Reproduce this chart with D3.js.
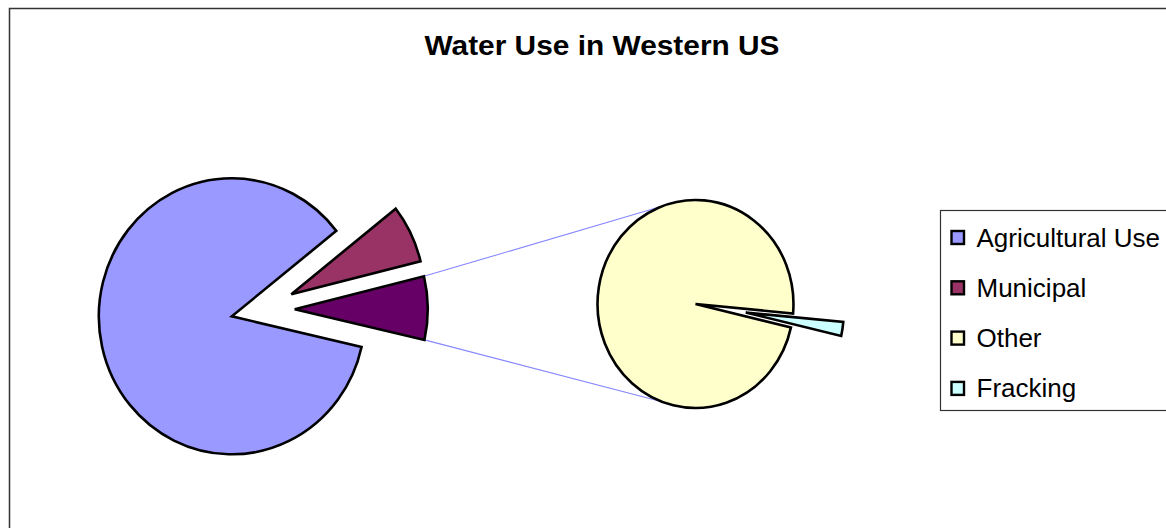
<!DOCTYPE html>
<html><head><meta charset="utf-8">
<script src="https://cdn.jsdelivr.net/npm/d3@7"></script>
<style>body{margin:0;background:#fff}svg{display:block}</style>
</head><body>
<svg id="chart" width="1166" height="528"></svg>
<script>
// ---- data ----
const title = "Water Use in Western US";
const categories = ["Agricultural Use", "Municipal", "Other", "Fracking"];
const values = [85.8, 6.8, 7.24, 0.16];          // percent of total water use
const secondaryCategories = ["Other", "Fracking"]; // split out into the second pie
const colors = ["#9999FF", "#993366", "#FFFFCC", "#CCFFFF"];
const combinedColor = "#660066";

// ---- layout / style ----
const deg = Math.PI / 180;
const svg = d3.select("#chart");

const mainCfg = {cx: 261, cy: 309.5, r: 138, sx: 0.964, start: 102.85 * deg, explode: [31, 35, 35]};
const secCfg = {cx: 695.5, cy: 304, r: 104, sx: 0.942, start: 103 * deg, explode: [0, 54]};

// chart border
svg.append("rect").attr("x", 9.5).attr("y", 8.5).attr("width", 1300).attr("height", 700)
  .attr("fill", "#fff").attr("stroke", "#333").attr("stroke-width", 1.5);

// title
svg.append("text").attr("x", 602).attr("y", 55).attr("text-anchor", "middle")
  .attr("font-family", "Liberation Sans, Arial, sans-serif").attr("font-weight", "bold")
  .attr("font-size", 27).attr("textLength", 355).attr("lengthAdjust", "spacingAndGlyphs")
  .attr("fill", "#000").text(title);

// data
const byName = new Map(categories.map((c, i) => [c, {name: c, value: values[i], color: colors[i]}]));
const secData = secondaryCategories.map(c => byName.get(c));
const mainData = categories.filter(c => !secondaryCategories.includes(c)).map(c => byName.get(c));
mainData.push({name: "Other (combined)", value: d3.sum(secData, d => d.value), color: combinedColor});

const mainArcs = d3.pie().sort(null).value(d => d.value)
  .startAngle(mainCfg.start).endAngle(mainCfg.start + 2 * Math.PI)(mainData);
const secArcs = d3.pie().sort(null).value(d => d.value)
  .startAngle(secCfg.start).endAngle(secCfg.start + 2 * Math.PI)(secData);

function toScreen(cfg, x, y) { return [cfg.cx + cfg.sx * x, cfg.cy + y]; }
function offsetOf(a, e) { const m = (a.startAngle + a.endAngle) / 2; return [e * Math.sin(m), -e * Math.cos(m)]; }

// connector lines (from combined slice corners to the second pie)
const comb = mainArcs[mainArcs.length - 1];
const co = offsetOf(comb, mainCfg.explode[mainArcs.length - 1]);
const p1 = toScreen(mainCfg, co[0] + mainCfg.r * Math.sin(comb.startAngle), co[1] - mainCfg.r * Math.cos(comb.startAngle));
const p2 = toScreen(mainCfg, co[0] + mainCfg.r * Math.sin(comb.endAngle), co[1] - mainCfg.r * Math.cos(comb.endAngle));
const q1 = toScreen(secCfg, secCfg.r * Math.sin(-20 * deg), -secCfg.r * Math.cos(-20 * deg));
const q2 = toScreen(secCfg, secCfg.r * Math.sin(200 * deg), -secCfg.r * Math.cos(200 * deg));
[[p1, q1], [p2, q2]].forEach(([a, b]) => {
  svg.append("line").attr("x1", a[0]).attr("y1", a[1]).attr("x2", b[0]).attr("y2", b[1])
    .attr("stroke", "#8888FF").attr("stroke-width", 1.1);
});

function drawPie(arcs, cfg) {
  const arc = d3.arc().innerRadius(0).outerRadius(cfg.r);
  const g = svg.append("g").attr("transform", `translate(${cfg.cx},${cfg.cy}) scale(${cfg.sx},1)`);
  g.selectAll("path").data(arcs).join("path")
    .attr("transform", (d, i) => { const o = offsetOf(d, cfg.explode[i]); return `translate(${o[0]},${o[1]})`; })
    .attr("d", arc)
    .attr("fill", d => d.data.color)
    .attr("stroke", "#000").attr("stroke-width", 2.6)
    .attr("stroke-linejoin", "miter")
    .attr("vector-effect", "non-scaling-stroke");
}
drawPie(mainArcs, mainCfg);
drawPie(secArcs, secCfg);

// legend
const lg = svg.append("g");
lg.append("rect").attr("x", 940.5).attr("y", 210.5).attr("width", 300).attr("height", 200)
  .attr("fill", "#fff").attr("stroke", "#333").attr("stroke-width", 1.2);
const items = lg.selectAll("g.item").data(categories).join("g").attr("class", "item")
  .attr("transform", (d, i) => `translate(0,${246.5 + 50.3 * i})`);
items.append("rect").attr("x", 951.5).attr("y", -15.5).attr("width", 12.5).attr("height", 13)
  .attr("fill", (d, i) => colors[i]).attr("stroke", "#000").attr("stroke-width", 2.4);
items.append("text").attr("x", 976.5).attr("y", 0)
  .attr("font-family", "Liberation Sans, Arial, sans-serif").attr("font-size", 26)
  .attr("fill", "#000").text(d => d);
</script>
</body></html>
